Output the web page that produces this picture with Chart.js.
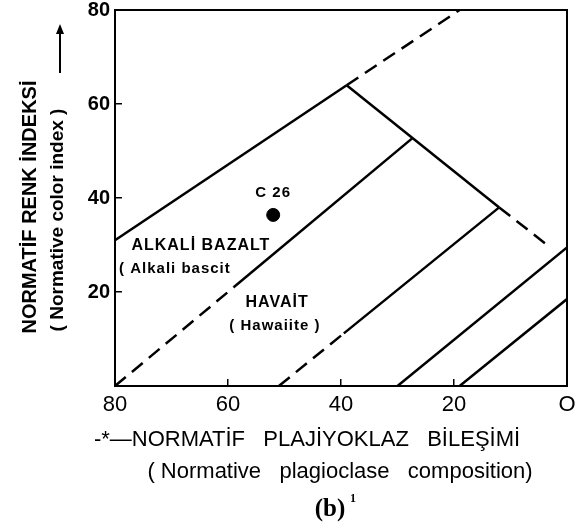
<!DOCTYPE html>
<html>
<head>
<meta charset="utf-8">
<script src="https://cdn.jsdelivr.net/npm/chart.js@4"></script>
<style>
html, body { margin: 0; padding: 0; background: #fff; }
</style>
</head>
<body>
<canvas id="chart" width="577" height="529"></canvas>
<script>
// Axis ticks
const xTicks = [0, 20, 40, 60, 80];
const xTickLabels = ['O', '20', '40', '60', '80'];
const yTicks = [0, 20, 40, 60, 80];
const yTickLabels = ['', '20', '40', '60', '80'];

// Field boundaries (x = normative plagioclase, y = normative color index)
// dash flags are per segment
const upperX = [80, 39, 19];
const upperY = [31, 64, 80];
const upperDash = [false, true];

const ridgeX = [39, 12, 3.5];
const ridgeY = [64, 38, 30];
const ridgeDash = [false, true];

const secondX = [80, 59, 27.3];
const secondY = [0, 21, 52.8];
const secondDash = [true, false];

const thirdX = [51, 39.5, 12];
const thirdY = [0, 11.2, 38];
const thirdDash = [true, false];

const fourthX = [30, 0];
const fourthY = [0, 29.5];
const fourthDash = [false];

const fifthX = [19, 0];
const fifthY = [0, 18.5];
const fifthDash = [false];

// Sample
const sampleX = [52];
const sampleY = [36.4];

const SANS = "'Liberation Sans', Arial, sans-serif";
const SERIF = "'Liberation Serif', 'Times New Roman', serif";

function boundary(xs, ys, dash) {
    return {
        data: xs.map((x, i) => ({ x: x, y: ys[i] })),
        showLine: true,
        borderColor: '#000',
        borderWidth: 2.5,
        pointRadius: 0,
        segment: {
            borderDash: c => dash[c.p0DataIndex] ? [14, 8] : undefined
        }
    };
}

// region labels, placed in data units
const regionLabels = [
    { text: 'ALKALİ BAZALT', x: 64.8, y: 29.8, font: 'bold 16px ' + SANS },
    { text: '( Alkali bascit', x: 69.4, y: 25, font: 'bold 15px ' + SANS },
    { text: 'HAVAİT', x: 51.3, y: 17.7, font: 'bold 16px ' + SANS },
    { text: '( Hawaiite )', x: 51.7, y: 12.7, font: 'bold 15px ' + SANS },
    { text: 'C 26', x: 52, y: 41, font: 'bold 15px ' + SANS }
];

const decor = {
    id: 'decor',
    afterDraw(chart) {
        const { ctx, chartArea: a, scales } = chart;
        ctx.save();
        ctx.strokeStyle = '#000';
        ctx.fillStyle = '#000';
        ctx.lineWidth = 2;
        ctx.strokeRect(a.left, a.top, a.right - a.left, a.bottom - a.top);

        ctx.textAlign = 'center';
        ctx.textBaseline = 'middle';
        ctx.letterSpacing = '1px';
        regionLabels.forEach(l => {
            ctx.font = l.font;
            ctx.fillText(l.text, scales.x.getPixelForValue(l.x), scales.y.getPixelForValue(l.y));
        });
        ctx.letterSpacing = '0px';

        // y axis title (two rotated lines)
        ctx.save();
        ctx.translate(30, 207);
        ctx.rotate(-Math.PI / 2);
        ctx.font = 'bold 20px ' + SANS;
        ctx.fillText('NORMATİF RENK İNDEKSİ', 0, 0);
        ctx.restore();
        ctx.save();
        ctx.translate(58, 220);
        ctx.rotate(-Math.PI / 2);
        ctx.font = 'bold 19px ' + SANS;
        ctx.fillText('( Normative color index )', 0, 0);
        ctx.restore();

        // arrow
        ctx.lineWidth = 2;
        ctx.beginPath();
        ctx.moveTo(60, 73);
        ctx.lineTo(60, 30);
        ctx.stroke();
        ctx.beginPath();
        ctx.moveTo(60, 24);
        ctx.lineTo(56, 34);
        ctx.lineTo(64, 34);
        ctx.closePath();
        ctx.fill();

        // x axis title
        ctx.font = '22px ' + SANS;
        ctx.fillText('-*—NORMATİF   PLAJİYOKLAZ   BİLEŞİMİ', 307, 440);
        ctx.fillText('( Normative   plagioclase   composition)', 340, 472);
        ctx.font = 'bold 25px ' + SERIF;
        ctx.fillText('(b)', 330, 510);
        ctx.font = 'bold 12px ' + SERIF;
        ctx.fillText('1', 353, 499);
        ctx.restore();
    }
};

Chart.defaults.color = '#000';

new Chart(document.getElementById('chart').getContext('2d'), {
    type: 'scatter',
    data: {
        datasets: [
            boundary(upperX, upperY, upperDash),
            boundary(ridgeX, ridgeY, ridgeDash),
            boundary(secondX, secondY, secondDash),
            boundary(thirdX, thirdY, thirdDash),
            boundary(fourthX, fourthY, fourthDash),
            boundary(fifthX, fifthY, fifthDash),
            {
                data: sampleX.map((x, i) => ({ x: x, y: sampleY[i] })),
                pointRadius: 6.5,
                pointBackgroundColor: '#000',
                pointBorderColor: '#000'
            }
        ]
    },
    options: {
        responsive: false,
        animation: false,
        layout: { padding: { top: 10, right: 10, left: 0, bottom: 0 } },
        plugins: { legend: { display: false }, tooltip: { enabled: false } },
        scales: {
            x: {
                type: 'linear',
                reverse: true,
                min: 0,
                max: 80,
                afterBuildTicks: s => { s.ticks = xTicks.map(v => ({ value: v })); },
                afterFit: s => { s.height = 143; s.paddingLeft = 0; s.paddingRight = 0; },
                ticks: {
                    padding: 13,
                    maxRotation: 0,
                    font: { family: SANS, size: 22 },
                    callback: v => xTickLabels[xTicks.indexOf(v)]
                },
                grid: { drawOnChartArea: false, tickLength: -7, color: '#000', lineWidth: 1.5 },
                border: { color: '#000', width: 2 }
            },
            y: {
                type: 'linear',
                min: 0,
                max: 80,
                afterBuildTicks: s => { s.ticks = yTicks.map(v => ({ value: v })); },
                afterFit: s => { s.width = 115; s.paddingTop = 0; s.paddingBottom = 0; },
                ticks: {
                    padding: 12,
                    font: { family: SANS, size: 20, weight: 'bold' },
                    callback: v => yTickLabels[yTicks.indexOf(v)]
                },
                grid: { drawOnChartArea: false, tickLength: -7, color: '#000', lineWidth: 1.5 },
                border: { color: '#000', width: 2 }
            }
        }
    },
    plugins: [decor]
});
</script>
</body>
</html>
